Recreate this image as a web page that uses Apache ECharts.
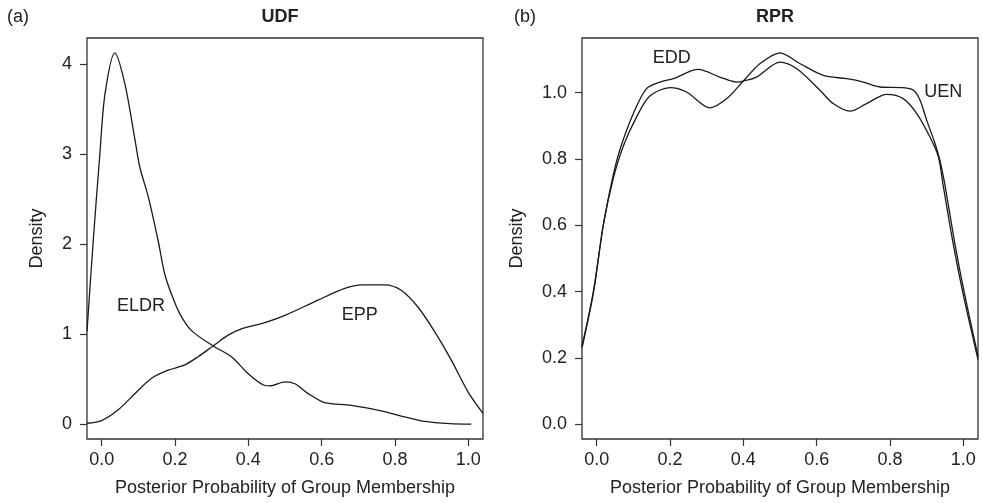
<!DOCTYPE html>
<html>
<head>
<meta charset="utf-8">
<script src="https://cdn.jsdelivr.net/npm/echarts@6/dist/echarts.min.js"></script>
<style>
  html, body { margin: 0; padding: 0; background: #fff; }
  #chart { width: 983px; height: 503px; }
</style>
</head>
<body>
<div id="chart"></div>
<script>
// tick values
const xTicks = [0, 0.2, 0.4, 0.6, 0.8, 1.0];
const yTicksUDF = [0, 1, 2, 3, 4];
const yTicksRPR = [0, 0.2, 0.4, 0.6, 0.8, 1.0];

// (a) UDF densities, [x, density]
const eldr = [[-0.04, 1.03], [-0.023, 2.04], [-0.005, 3.0], [0.009, 3.67], [0.036, 4.13],
  [0.063, 3.79], [0.091, 3.16], [0.104, 2.86], [0.127, 2.53], [0.154, 2.04], [0.172, 1.67],
  [0.19, 1.45], [0.213, 1.23], [0.245, 1.04], [0.304, 0.87], [0.354, 0.75], [0.40, 0.56],
  [0.445, 0.43], [0.459, 0.425], [0.50, 0.47], [0.527, 0.45], [0.563, 0.34], [0.608, 0.24],
  [0.681, 0.21], [0.772, 0.14], [0.817, 0.09], [0.881, 0.03], [0.95, 0.005], [1.008, 0.0]];
const epp = [[-0.04, 0.01], [0.0, 0.04], [0.045, 0.16], [0.091, 0.34], [0.136, 0.51],
  [0.181, 0.60], [0.227, 0.66], [0.263, 0.75], [0.304, 0.87], [0.345, 0.99], [0.381, 1.06],
  [0.445, 1.13], [0.50, 1.21], [0.59, 1.38], [0.663, 1.51], [0.708, 1.55], [0.772, 1.55],
  [0.817, 1.49], [0.863, 1.30], [0.908, 1.03], [0.954, 0.71], [0.999, 0.36], [1.04, 0.12]];

// (b) RPR densities
const edd = [[-0.04, 0.235], [-0.009, 0.40], [0.018, 0.60], [0.045, 0.75], [0.064, 0.83],
  [0.10, 0.937], [0.136, 1.012], [0.173, 1.032], [0.209, 1.042], [0.277, 1.07], [0.336, 1.047],
  [0.382, 1.032], [0.40, 1.035], [0.436, 1.047], [0.50, 1.092], [0.546, 1.072], [0.609, 1.007],
  [0.645, 0.967], [0.691, 0.944], [0.736, 0.967], [0.791, 0.995], [0.836, 0.982], [0.873, 0.937],
  [0.909, 0.866], [0.932, 0.806], [0.945, 0.72], [0.973, 0.54], [1.0, 0.39], [1.04, 0.195]];
const uen = [[-0.04, 0.23], [-0.009, 0.395], [0.018, 0.60], [0.045, 0.74], [0.073, 0.84],
  [0.109, 0.927], [0.145, 0.99], [0.20, 1.015], [0.245, 1.002], [0.309, 0.954], [0.355, 0.982],
  [0.40, 1.035], [0.445, 1.087], [0.50, 1.12], [0.555, 1.087], [0.618, 1.052], [0.682, 1.042],
  [0.727, 1.032], [0.773, 1.017], [0.836, 1.015], [0.864, 1.007], [0.882, 0.977], [0.90, 0.917],
  [0.923, 0.846], [0.936, 0.796], [0.95, 0.72], [0.976, 0.55], [1.002, 0.40], [1.04, 0.205]];

// curve names written inside the panels, [name, x, y]
const labelsUDF = [['ELDR', 0.107, 1.31], ['EPP', 0.704, 1.21]];
const labelsRPR = [['EDD', 0.205, 1.103], ['UEN', 0.945, 1.002]];

const FONT = "'Liberation Sans', Arial, sans-serif";
const INK = '#222';

function xAxisOf(grid) {
  return {
    type: 'value', gridIndex: grid, min: -0.04, max: 1.04,
    name: 'Posterior Probability of Group Membership',
    nameLocation: 'middle', nameGap: 40,
    nameTextStyle: { fontFamily: FONT, fontSize: 18, color: INK },
    axisLine: { show: false, onZero: false },
    axisTick: { show: true, inside: false, length: 7, customValues: xTicks,
      lineStyle: { color: '#333', width: 1.2 } },
    axisLabel: { customValues: xTicks, margin: 12, fontFamily: FONT, fontSize: 18, color: INK,
      formatter: v => v.toFixed(1) },
    splitLine: { show: false }
  };
}

function yAxisOf(grid, min, max, ticks, digits, gap) {
  return {
    type: 'value', gridIndex: grid, min: min, max: max,
    name: 'Density', nameLocation: 'middle', nameGap: gap,
    nameTextStyle: { fontFamily: FONT, fontSize: 18, color: INK },
    axisLine: { show: false, onZero: false },
    axisTick: { show: true, inside: false, length: 7, customValues: ticks,
      lineStyle: { color: '#333', width: 1.2 } },
    axisLabel: { customValues: ticks, margin: 15, fontFamily: FONT, fontSize: 18, color: INK,
      formatter: v => v.toFixed(digits) },
    splitLine: { show: false }
  };
}

function curve(data, axis) {
  return {
    type: 'line', data: data, xAxisIndex: axis, yAxisIndex: axis,
    smooth: 0.3, showSymbol: false, silent: true, clip: true,
    lineStyle: { color: '#1a1a1a', width: 1.3 }
  };
}

function tags(list, axis) {
  return {
    type: 'scatter', xAxisIndex: axis, yAxisIndex: axis, symbolSize: 0, silent: true,
    itemStyle: { opacity: 1 },
    data: list.map(d => ({ name: d[0], value: [d[1], d[2]] })),
    label: { show: true, position: 'inside', formatter: p => p.name,
      fontFamily: FONT, fontSize: 18, color: INK, textBorderWidth: 0 }
  };
}

const chart = echarts.init(document.getElementById('chart'), null, { renderer: 'canvas' });
chart.setOption({
  backgroundColor: '#fff',
  animation: false,
  grid: [
    { left: 87, top: 38, width: 396, height: 401, show: true, borderColor: '#333', borderWidth: 1.3 },
    { left: 582, top: 38, width: 396, height: 401, show: true, borderColor: '#333', borderWidth: 1.3 }
  ],
  xAxis: [xAxisOf(0), xAxisOf(1)],
  yAxis: [
    yAxisOf(0, -0.165, 4.295, yTicksUDF, 0, 41),
    yAxisOf(1, -0.0448, 1.1648, yTicksRPR, 1, 56)
  ],
  graphic: [
    { type: 'text', x: 18, y: 17, style: { text: '(a)', font: '18px ' + FONT, fill: INK,
      textAlign: 'center', textVerticalAlign: 'middle' } },
    { type: 'text', x: 280, y: 17, style: { text: 'UDF', font: 'bold 18px ' + FONT, fill: INK,
      textAlign: 'center', textVerticalAlign: 'middle' } },
    { type: 'text', x: 525, y: 17, style: { text: '(b)', font: '18px ' + FONT, fill: INK,
      textAlign: 'center', textVerticalAlign: 'middle' } },
    { type: 'text', x: 775, y: 17, style: { text: 'RPR', font: 'bold 18px ' + FONT, fill: INK,
      textAlign: 'center', textVerticalAlign: 'middle' } }
  ],
  series: [
    curve(eldr, 0), curve(epp, 0), tags(labelsUDF, 0),
    curve(edd, 1), curve(uen, 1), tags(labelsRPR, 1)
  ]
});
</script>
</body>
</html>
